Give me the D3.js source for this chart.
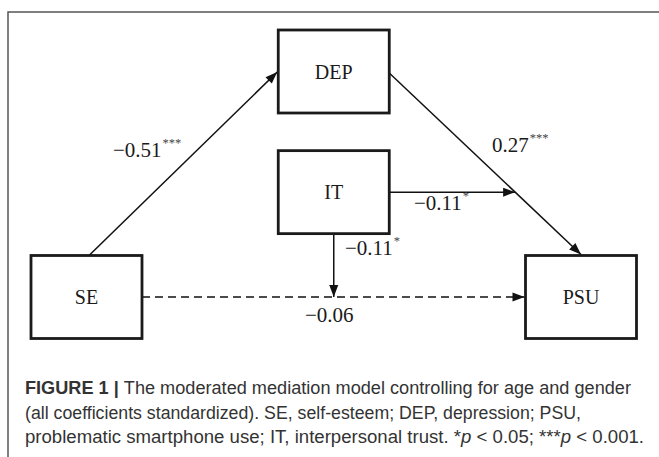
<!DOCTYPE html>
<html>
<head>
<meta charset="utf-8">
<script src="https://cdn.jsdelivr.net/npm/d3@7"></script>
<style>
  html, body { margin: 0; padding: 0; background: #fff; }
  svg { display: block; }
</style>
</head>
<body>
<script>
// variables in the model
const nodeNames = ["SE", "DEP", "IT", "PSU"];

// paths of the model: from, to, coefficient, significance stars
const pathFrom = ["SE", "DEP", "IT", "IT", "SE"];
const pathTo = ["DEP", "PSU", "DEP-PSU", "SE-PSU", "PSU"];
const coefs = [-0.51, 0.27, -0.11, -0.11, -0.06];
const stars = ["***", "***", "*", "*", ""];

const captionLines = [
  [["b", "FIGURE 1 | "], ["r", "The moderated mediation model controlling for age and gender"]],
  [["r", "(all coefficients standardized). SE, self-esteem; DEP, depression; PSU,"]],
  [["r", "problematic smartphone use; IT, interpersonal trust. *"], ["i", "p"], ["r", " < 0.05; ***"], ["i", "p"], ["r", " < 0.001."]]
];

const width = 659, height = 457;

// layout grid: column / row centres of the boxes
const x = d3.scaleLinear().domain([0, 2]).range([86.5, 581]);
const y = d3.scaleLinear().domain([0, 2]).range([71.5, 297]);
const layout = {
  SE: [0, 2], DEP: [1, 0], IT: [1, 1.07], PSU: [2, 2]
};
const boxW = 111, boxH = 83;

const fmt = v => (v < 0 ? "\u2212" : "") + d3.format(".2f")(Math.abs(v));

const svg = d3.select("body").append("svg")
    .attr("width", width)
    .attr("height", height);

svg.append("defs").append("marker")
    .attr("id", "head")
    .attr("viewBox", "0 -5 12 10")
    .attr("refX", 12)
    .attr("refY", 0)
    .attr("markerWidth", 13)
    .attr("markerHeight", 10)
    .attr("markerUnits", "userSpaceOnUse")
    .attr("orient", "auto")
    .append("path")
    .attr("d", "M0,-4.5L12,0L0,4.5Z")
    .attr("fill", "#111");

// frame
svg.append("path")
    .attr("d", "M8," + height + "V12H" + width)
    .attr("fill", "none")
    .attr("stroke", "#555")
    .attr("stroke-width", 1.5);

function box(n) {
  const p = layout[n];
  const cx = x(p[0]), cy = y(p[1]);
  return { cx, cy, l: cx - boxW / 2, r: cx + boxW / 2, t: cy - boxH / 2, b: cy + boxH / 2 };
}

const B = {};
nodeNames.forEach(n => B[n] = box(n));

// end points of each path
function ends(i) {
  const f = pathFrom[i], t = pathTo[i];
  if (f === "SE" && t === "DEP") return [[B.SE.l + 58, B.SE.t], [B.DEP.l - 1, B.DEP.cy + 0.5]];
  if (f === "DEP" && t === "PSU") return [[B.DEP.r, B.DEP.cy + 1.5], [B.PSU.cx, B.PSU.t - 1]];
  if (t === "DEP-PSU") {
    const a = [B.DEP.r, B.DEP.cy + 1.5], b = [B.PSU.cx, B.PSU.t - 1];
    const yy = B.IT.cy;
    const xx = a[0] + (yy - a[1]) * (b[0] - a[0]) / (b[1] - a[1]);
    return [[B.IT.r, yy], [xx, yy]];
  }
  if (t === "SE-PSU") return [[B.IT.cx, B.IT.b], [B.IT.cx, B.SE.cy]];
  return [[B.SE.r, B.SE.cy], [B.PSU.l - 1, B.PSU.cy]];
}

const line = d3.line();
svg.append("g").selectAll("path")
    .data(coefs)
    .join("path")
    .attr("d", (d, i) => line(ends(i)))
    .attr("fill", "none")
    .attr("stroke", "#111")
    .attr("stroke-width", 1.5)
    .attr("stroke-dasharray", (d, i) => pathTo[i] === "PSU" && pathFrom[i] === "SE" ? "8,5" : null)
    .attr("marker-end", "url(#head)");

// boxes
const g = svg.append("g").selectAll("g")
    .data(nodeNames)
    .join("g");

g.append("rect")
    .attr("x", d => B[d].l)
    .attr("y", d => B[d].t)
    .attr("width", boxW)
    .attr("height", boxH)
    .attr("fill", "#fff")
    .attr("stroke", "#1a1a1a")
    .attr("stroke-width", 2.8);

g.append("text")
    .attr("x", d => B[d].cx)
    .attr("y", d => B[d].cy + 7)
    .attr("text-anchor", "middle")
    .attr("font-family", "'Liberation Serif', 'Times New Roman', serif")
    .attr("font-size", 20)
    .attr("fill", "#1a1a1a")
    .text(d => d);

// coefficient labels, anchored to their paths
const labelPos = [
  [113, 157], [492, 152], [414, 210], [345, 255], [305, 322]
];
const lab = svg.append("g").selectAll("text")
    .data(coefs)
    .join("text")
    .attr("x", (d, i) => labelPos[i][0])
    .attr("y", (d, i) => labelPos[i][1])
    .attr("font-family", "'Liberation Serif', 'Times New Roman', serif")
    .attr("font-size", 21)
    .attr("fill", "#1a1a1a");
lab.append("tspan").text(d => fmt(d));
lab.append("tspan")
    .attr("dy", -10)
    .attr("dx", 1)
    .attr("font-size", 12.5)
    .attr("fill", "#444")
    .text((d, i) => stars[i]);

// caption
const capW = [606, 556, 619];
const capY = [394, 419, 443];
captionLines.forEach((parts, i) => {
  const t = svg.append("text")
      .attr("x", 25)
      .attr("y", capY[i])
      .attr("font-family", "'Liberation Sans', Arial, sans-serif")
      .attr("font-size", 17.5)
      .attr("fill", "#333")
      .attr("textLength", capW[i])
      .attr("lengthAdjust", "spacingAndGlyphs");
  parts.forEach(p => {
    t.append("tspan")
        .attr("font-weight", p[0] === "b" ? "bold" : null)
        .attr("font-style", p[0] === "i" ? "italic" : null)
        .text(p[1]);
  });
});
</script>
</body>
</html>
